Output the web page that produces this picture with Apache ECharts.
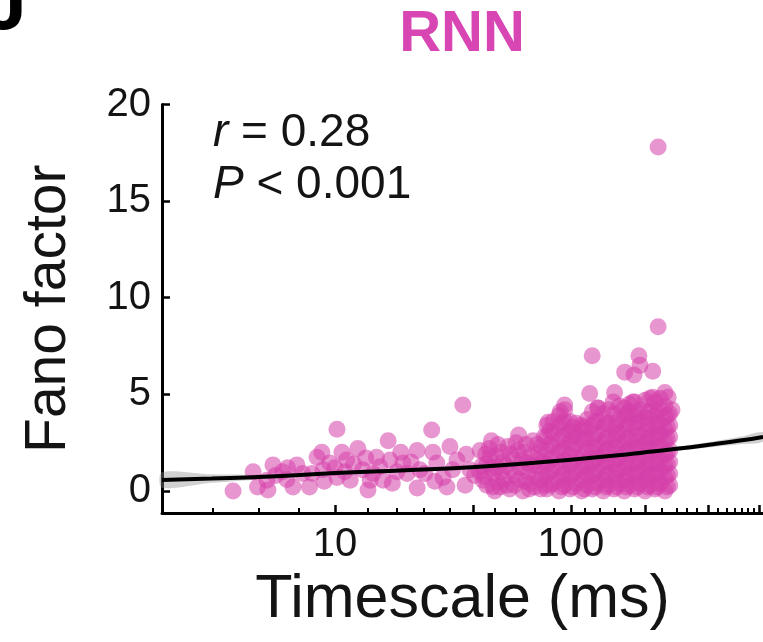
<!DOCTYPE html>
<html><head><meta charset="utf-8">
<script src="https://cdn.jsdelivr.net/npm/echarts@6/dist/echarts.min.js"></script>
<style>html,body{margin:0;padding:0;background:#fff}#c{width:763px;height:642px}</style>
</head><body><div id="c"></div>
<script>
// ---------- data ----------
const xLabels = [10, 100];
const xMajorTicks = [10, 38.4, 100, 206, 381, 626];
const xMinorTicks = [3.04, 4.76, 7.04, 13.8, 18.3, 23.8, 30.7, 47.6, 58.5, 70.4, 84.7,
  114.6, 132.7, 153.6, 179.6, 243, 281, 310, 342, 420, 458, 495, 530, 562, 596];
const yTicks = [0, 5, 10, 15, 20];

// sparse points, short timescales: [timescale ms, fano]
const sparsePoints = [
  [3.7,0.0],[4.5,1.0],[4.7,0.2],[5.15,0.55],[5.2,0.05],[5.46,1.35],[5.6,0.8],[6.0,1.0],[6.26,0.6],
  [6.3,1.2],[6.64,0.2],[6.9,1.35],[7.3,0.9],[7.8,0.2],[8.0,0.9],[8.4,1.75],[8.8,2.0],[8.9,1.1],
  [9.0,0.5],[9.5,1.45],[10.0,1.2],[10.2,3.2],[10.2,0.7],[10.7,2.0],[11.0,1.0],[11.2,1.6],[11.6,0.55],
  [12.0,1.4],[12.5,2.2],[13.1,1.1],[13.5,1.7],[13.8,0.05],[14.1,0.55],[14.5,0.9],[15.0,1.75],
  [15.5,1.25],[16.0,0.55],[16.8,2.6],[17.1,1.6],[17.5,0.4],[18.3,1.0],[19.0,2.0],[19.4,1.45],
  [20.2,0.9],[21.0,1.5],[22.3,2.1],[22.3,0.15],[22.9,1.1],[24.0,0.9],[25.7,3.15],[26.0,2.0],
  [26.5,0.5],[27.0,1.45],[28.7,0.7],[29.8,0.2],[30.7,2.3],[31.5,1.1],[32.9,1.6],[34.8,4.45],
  [35.6,0.3],[36,1.9],[37.3,1.1],[39,0.8],[41.2,2.1],[42.4,0.55],[44,1.4],[45.4,1.75],[46.7,0.2],
  [47,0.9],[48.6,1.25],[49,2.4]
];
// medium density, 40-78 ms
const midPoints = [
  [42,1.3],[43,0.75],[44,0.3],[45,2.2],[47.5,0.0],[48,1.8],[50,0.2],[51.5,1.5],[52,0.6],[54,2.3],
  [55,0.1],[56,1.1],[57,1.6],[58,0.8],[59.5,2.1],[60,2.9],[61,1.2],[62.5,0.0],[63,2.0],[64,0.5],
  [65,1.45],[66,1.0],[67,0.4],[68,1.8],[69,2.6],[70,0.2],[71,1.3],[73,1.95],[74,0.6],[75,2.3],[76,0.9],
  [41,1.0],[43.5,1.9],[46,1.2],[46,2.6],[49,0.5],[50.5,1.0],[51,2.0],[53,1.3],[53.5,0.3],[55.5,1.9],
  [57.5,0.3],[58.5,2.5],[60.5,0.6],[62,1.6],[64.5,2.4],[66.5,0.1],[67.5,1.3],[70.5,0.8],[72,2.4],
  [72.5,1.6],[74.5,0.1],[76.5,1.5],[77,2.8],[77.5,0.3]
];
// dense cloud, 79-262 ms: [timescale ms, [fano values]]
const denseColumns = [
  [79,[0.1,0.8,1.4,2.1,2.8,3.4]],
  [81.5,[0.3,1.0,1.6,2.4,3.1]],
  [84,[0.4,1.1,1.7,2.3,3.0,3.6]],
  [89,[0.0,0.6,1.2,2.0,2.6,3.3,3.9]],
  [91.5,[0.2,0.8,1.5,2.1,2.8,3.5]],
  [94,[0.3,0.9,1.6,2.2,2.9,3.6,4.2]],
  [99,[0.1,0.7,1.3,1.9,2.5,3.1,3.6]],
  [102,[0.2,0.9,1.5,2.2,2.8,3.3]],
  [105,[0.4,1.0,1.7,2.4,2.9,3.5]],
  [111,[0.0,0.6,1.2,1.8,2.6,3.2,3.4]],
  [114,[0.1,0.8,1.4,2.0,2.7,3.3]],
  [117,[0.3,0.9,1.5,2.2,2.8,3.7]],
  [123,[0.1,0.8,1.4,2.0,2.7,3.4,4.1]],
  [126.5,[0.2,0.9,1.6,2.2,2.9,3.6]],
  [130,[0.4,1.0,1.7,2.3,3.0,3.6,4.3]],
  [137,[0.0,0.6,1.3,1.9,2.5,3.3,4.0]],
  [140.5,[0.2,0.8,1.5,2.1,2.7,3.5]],
  [144,[0.3,0.9,1.5,2.2,2.8,3.5,4.2]],
  [152,[0.1,0.7,1.4,2.0,2.7,3.3,4.0]],
  [156,[0.2,0.9,1.6,2.2,2.9,3.5]],
  [160,[0.4,1.1,1.7,2.4,3.0,3.7,4.4]],
  [168,[0.0,0.6,1.2,1.9,2.5,3.2,3.9,4.3]],
  [172,[0.2,0.8,1.4,2.1,2.7,3.4,4.0]],
  [177,[0.3,0.9,1.5,2.1,2.8,3.5,4.1,4.5]],
  [186,[0.1,0.7,1.4,2.0,2.6,3.3,3.9,4.6]],
  [191,[0.2,0.9,1.5,2.2,2.8,3.5,4.0]],
  [196,[0.4,1.0,1.6,2.3,2.9,3.6,4.2]],
  [206,[0.0,0.6,1.2,1.8,2.5,3.1,3.8,4.7]],
  [211,[0.2,0.8,1.4,2.1,2.7,3.4,4.1]],
  [216,[0.3,0.9,1.6,2.2,2.8,3.4,4.1,4.8]],
  [227,[0.1,0.8,1.4,2.0,2.7,3.3,3.9,4.6]],
  [232,[0.2,0.9,1.5,2.2,2.8,3.5,4.1]],
  [238,[0.4,1.0,1.6,2.3,2.9,3.5,4.2,4.8]],
  [250,[0.0,0.7,1.3,1.9,2.6,3.2,3.8,4.4]],
  [256,[0.2,0.8,1.4,2.0,2.7,3.3,3.9]],
  [262,[0.3,0.9,1.5,2.1,2.8,3.4,4.0]]
];
// upper points / outliers
const outlierPoints = [
  [234,17.8],[234,8.5],[123,7.0],[194,7.0],[196,6.5],[169,6.15],[185,6.0],[222,6.2],
  [120,5.05],[153,5.1],[94,4.45],[151,4.6],[250,5.1],[130,4.3],[183,4.6],[222,4.85],
  [258,4.85],[268,4.2],[80,3.55],[90,4.1]
];
// fitted curve and its confidence band
const fitTimescale = [1.85, 3, 5, 10, 20, 41, 70, 100, 150, 200, 280, 400, 520, 651];
const fitFano      = [0.57, 0.64, 0.73, 0.93, 1.07, 1.25, 1.46, 1.62, 1.82, 1.98, 2.18, 2.42, 2.61, 2.8];
const bandLow      = [0.17, 0.42, 0.61, 0.86, 1.02, 1.21, 1.42, 1.57, 1.76, 1.9, 2.08, 2.28, 2.42, 2.55];
const bandHigh     = [0.97, 0.86, 0.85, 1.0, 1.12, 1.29, 1.5, 1.67, 1.88, 2.06, 2.28, 2.56, 2.8, 3.05];

// ---------- chart ----------
const FONT = '"Liberation Sans", Arial, sans-serif';
const TXT = '#141414';
const scatterData = sparsePoints.concat(midPoints, outlierPoints);
denseColumns.forEach(([t, vals]) => vals.forEach(v => scatterData.push([t, v])));

const xMin = 1.85, xMax = 651;
const chart = echarts.init(document.getElementById('c'));
chart.setOption({
  animation: false,
  backgroundColor: '#fff',
  grid: { left: 162, right: 0, top: 104.5, bottom: 129 },
  xAxis: [{
    type: 'log', logBase: 10, min: xMin, max: xMax, position: 'bottom',
    name: 'Timescale (ms)', nameLocation: 'middle', nameGap: 42,
    nameTextStyle: { fontFamily: FONT, fontSize: 61, color: TXT },
    axisLine: { show: true, onZero: false, lineStyle: { color: '#000', width: 3 } },
    axisTick: { show: true, inside: true, length: 8, customValues: xMajorTicks,
      lineStyle: { color: '#000', width: 2.5 } },
    axisLabel: { customValues: xLabels, fontFamily: FONT, fontSize: 40, color: TXT, margin: 12,
      formatter: v => String(Math.round(v)) },
    splitLine: { show: false }, minorTick: { show: false }
  }, {
    type: 'log', logBase: 10, min: xMin, max: xMax, position: 'bottom', offset: 0,
    axisLine: { show: false, onZero: false },
    axisTick: { show: true, inside: true, length: 5, customValues: xMinorTicks,
      lineStyle: { color: '#000', width: 2 } },
    axisLabel: { show: false }, splitLine: { show: false }
  }],
  yAxis: {
    type: 'value', min: -1.14, max: 20,
    name: 'Fano factor', nameLocation: 'middle', nameGap: 84,
    nameTextStyle: { fontFamily: FONT, fontSize: 57, color: TXT },
    axisLine: { show: true, onZero: false, lineStyle: { color: '#000', width: 3 } },
    axisTick: { show: true, inside: true, length: 8, customValues: yTicks,
      lineStyle: { color: '#000', width: 2.5 } },
    axisLabel: { customValues: yTicks, fontFamily: FONT, fontSize: 40, color: TXT, margin: 11 },
    splitLine: { show: false }
  },
  graphic: [
    { type: 'text', x: 27, y: 7, style: { text: 'J', fontFamily: FONT, fontWeight: 'bold',
      fontSize: 80, fill: '#000', align: 'right', verticalAlign: 'middle' } },
    { type: 'text', x: 462, y: 35, style: { text: 'RNN', fontFamily: FONT, fontWeight: 'bold',
      fontSize: 58, fill: '#d846b4', align: 'center', verticalAlign: 'middle' } },
    { type: 'text', x: 213, y: 133, z: 10, style: { text: '{i|r} = 0.28', fontFamily: FONT,
      fontSize: 46, fill: TXT, align: 'left', verticalAlign: 'middle',
      rich: { i: { fontStyle: 'italic', fontFamily: FONT, fontSize: 46, fill: TXT } } } },
    { type: 'text', x: 213, y: 185, z: 10, style: { text: '{i|P} < 0.001', fontFamily: FONT,
      fontSize: 46, fill: TXT, align: 'left', verticalAlign: 'middle',
      rich: { i: { fontStyle: 'italic', fontFamily: FONT, fontSize: 46, fill: TXT } } } }
  ],
  series: [{
    type: 'custom', z: 1, silent: true,
    data: [[fitTimescale[0], fitFano[0]]],
    renderItem: (params, api) => {
      const pts = fitTimescale.map((t, i) => api.coord([t, bandHigh[i]]));
      for (let i = fitTimescale.length - 1; i >= 0; i--) pts.push(api.coord([fitTimescale[i], bandLow[i]]));
      return { type: 'polygon', shape: { points: pts, smooth: 0.3 },
        style: { fill: 'rgba(140,140,140,0.4)' } };
    }
  }, {
    type: 'scatter', z: 2, symbolSize: 17,
    itemStyle: { color: 'rgb(214,64,170)', opacity: 0.55 },
    data: scatterData
  }, {
    type: 'line', z: 3, symbol: 'none', smooth: true,
    lineStyle: { color: '#000', width: 4 },
    data: fitTimescale.map((t, i) => [t, fitFano[i]])
  }]
});
</script></body></html>
